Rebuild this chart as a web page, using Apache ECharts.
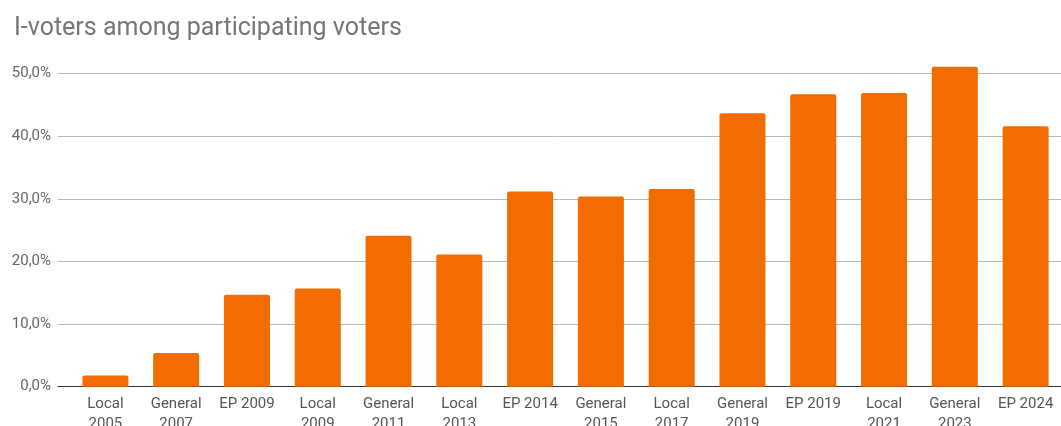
<!DOCTYPE html>
<html>
<head>
<meta charset="utf-8">
<script src="https://cdn.jsdelivr.net/npm/echarts@6/dist/echarts.min.js"></script>
<style>
html,body{margin:0;padding:0;background:#fff;}
#chart{width:1061px;height:426px;}
</style>
</head>
<body>
<div id="chart"></div>
<script>
const titleText = 'I-voters among participating voters';
const categories = ['Local\n2005','General\n2007','EP 2009','Local\n2009','General\n2011','Local\n2013','EP 2014','General\n2015','Local\n2017','General\n2019','EP 2019','Local\n2021','General\n2023','EP 2024'];
const shares = [1.8, 5.4, 14.7, 15.7, 24.1, 21.1, 31.2, 30.4, 31.6, 43.7, 46.7, 46.9, 51.1, 41.6];
const yMin = 0, yMax = 50, yStep = 10;

const chart = echarts.init(document.getElementById('chart'), null, {renderer:'canvas'});
const fontFamily = 'Roboto, "Noto Sans", sans-serif';
chart.setOption({
  animation: false,
  backgroundColor: '#ffffff',
  title: {
    text: titleText,
    left: 9, top: 11,
    textStyle: {fontFamily: fontFamily, fontSize: 25, fontWeight: 'normal', color: '#757575'}
  },
  grid: [
    {left: 58, right: 0, top: 73.7, bottom: 39.3, outerBoundsMode: 'none', containLabel: false},
    {left: 70, right: 0, top: 73.7, bottom: 39.3, outerBoundsMode: 'none', containLabel: false}
  ],
  xAxis: [
    {gridIndex: 0, type: 'value', min: 0, max: 1,
     axisLine: {show: true, lineStyle: {color: '#333333', width: 1}},
     axisTick: {show: false}, axisLabel: {show: false}, splitLine: {show: false}},
    {gridIndex: 1, type: 'category', data: categories,
     axisLine: {show: false}, axisTick: {show: false},
     axisLabel: {interval: 0, margin: 8, fontFamily: fontFamily, fontSize: 15, lineHeight: 20, color: '#555555'}}
  ],
  yAxis: [
    {gridIndex: 0, type: 'value', min: yMin, max: yMax, interval: yStep,
     axisLine: {show: false}, axisTick: {show: false},
     axisLabel: {margin: 7, fontFamily: fontFamily, fontSize: 15, color: '#666666',
       formatter: v => v.toFixed(1).replace('.', ',') + '%'},
     splitLine: {lineStyle: {color: '#b7b7b7', width: 1}}},
    {gridIndex: 1, type: 'value', min: yMin, max: yMax, interval: yStep, show: false,
     splitLine: {show: false}}
  ],
  series: [{
    type: 'bar', xAxisIndex: 1, yAxisIndex: 1,
    data: shares, barWidth: 46, clip: false,
    itemStyle: {color: '#f36c00', borderRadius: [2,2,0,0]}
  }]
});
</script>
</body>
</html>
